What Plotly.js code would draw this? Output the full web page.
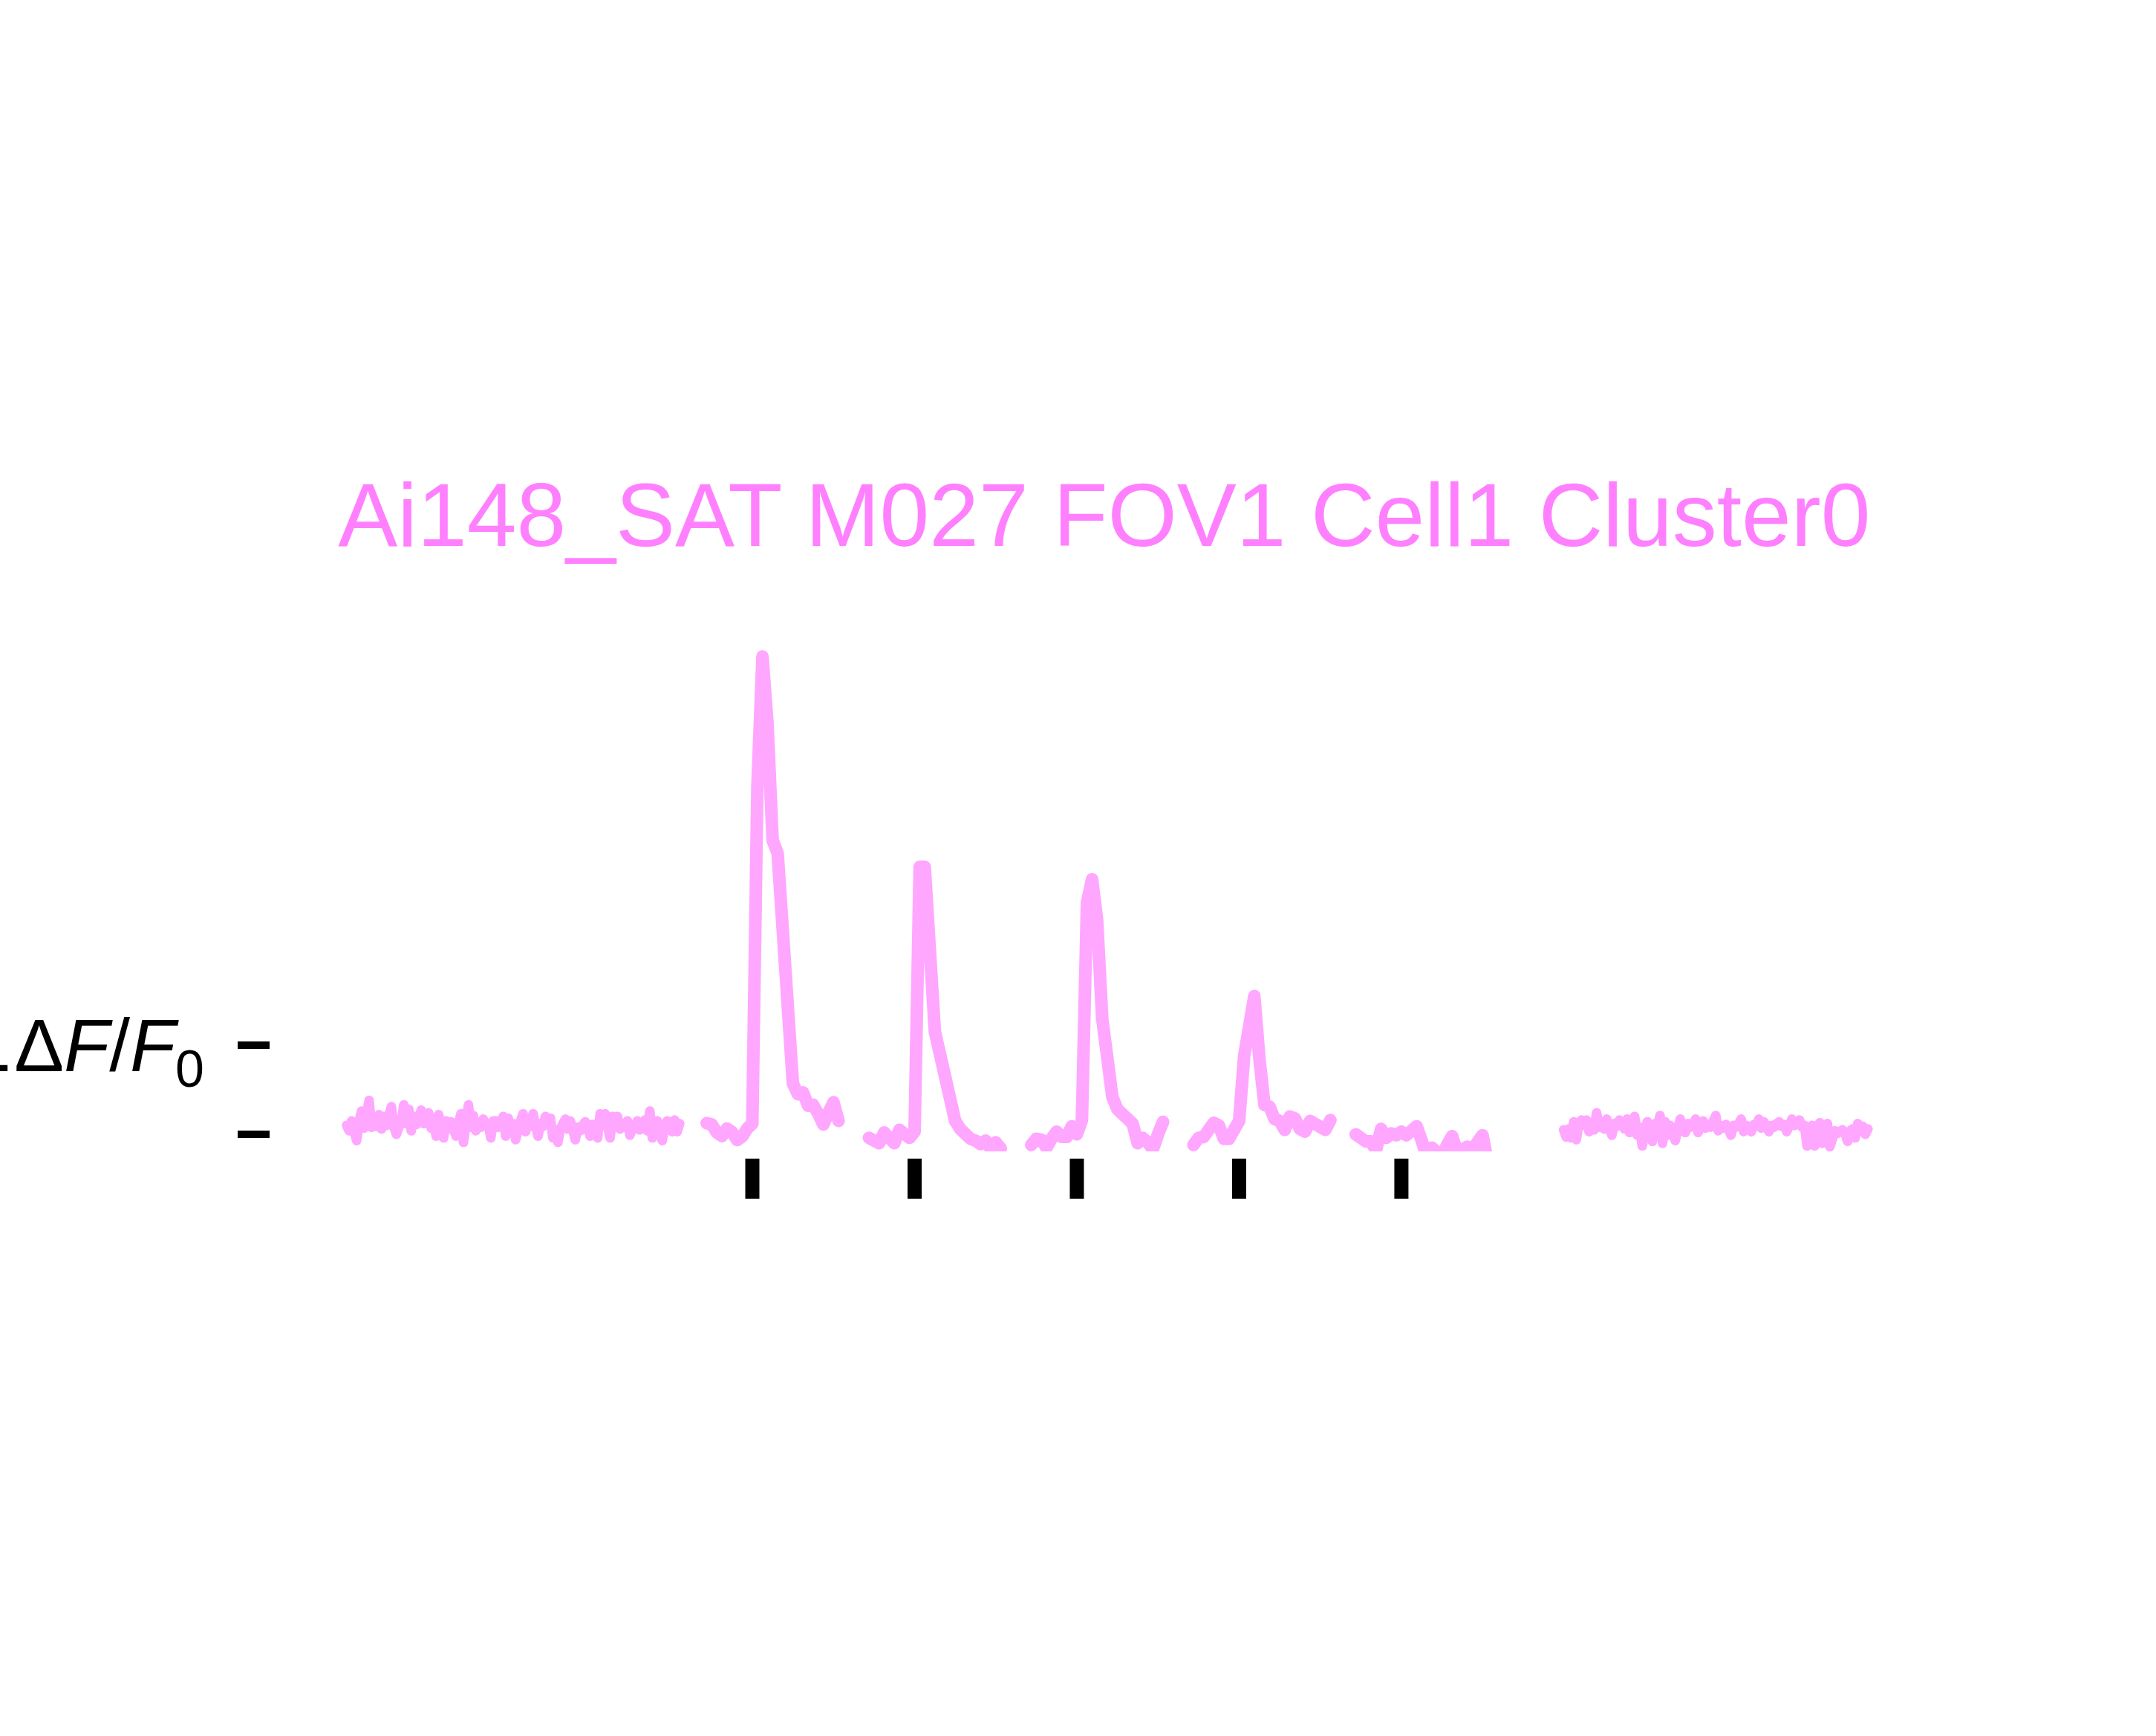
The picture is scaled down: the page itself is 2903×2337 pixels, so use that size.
<!DOCTYPE html>
<html>
<head>
<meta charset="utf-8">
<script src="https://cdn.plot.ly/plotly-3.0.1.min.js"></script>
<style>html,body{margin:0;padding:0;background:#fff;}</style>
</head>
<body>
<div id="chart" style="width:2903px;height:2337px;"></div>
<script>
// ---------------- data ----------------
const titleText = "Ai148_SAT M027 FOV1 Cell1 Cluster0";

// pre-stimulus baseline recording (ΔF/F0), start 0 s
const baselinePre = [
  0.10, 0.04, 0.15, 0.06, -0.07, 0.14, 0.26, 0.07, 0.19, 0.38,
  0.08, 0.16, 0.09, 0.22, 0.06, 0.20, 0.10, 0.17, 0.31, 0.09,
  0.00, 0.08, 0.14, 0.33, 0.12, 0.28, 0.04, 0.20, 0.11, 0.18,
  0.27, 0.12, 0.16, 0.24, 0.07, 0.16, -0.02, 0.22, 0.10, -0.04,
  0.15, 0.06, 0.14, 0.08, -0.02, 0.12, 0.23, -0.09, 0.10, 0.33,
  0.08, 0.21, 0.04, 0.10, 0.08, 0.17, 0.09, 0.12, -0.04, 0.15,
  0.15, 0.08, 0.10, 0.20, -0.02, 0.18, 0.08, 0.12, -0.06, 0.10,
  0.15, 0.23, 0.03, 0.12, 0.09, 0.23, 0.10, -0.02, 0.12, 0.09,
  0.20, 0.11, 0.18, -0.04, 0.05, -0.09, 0.06, 0.10, 0.17, 0.06,
  0.15, 0.05, -0.06, 0.08, 0.04, 0.10, 0.14, 0.08, -0.02, 0.11,
  0.06, -0.04, 0.23, 0.10, 0.23, 0.09, -0.04, 0.20, 0.08, 0.20,
  0.06, 0.12, 0.08, 0.15, -0.01, 0.08, 0.06, 0.15, 0.05, 0.10,
  0.16, 0.04, 0.26, -0.04, 0.10, 0.15, 0.02, -0.07, 0.10, 0.15,
  0.06, 0.03, 0.16, 0.03, 0.12
];
const baselinePreStart = 0;
const baselinePreDt = 0.1225;

// post-stimulus baseline recording (ΔF/F0), start 60 s
const baselinePost = [
  0.05, -0.03, 0.06, -0.04, 0.14, -0.06, 0.12, 0.16, 0.10, 0.16,
  0.03, 0.13, 0.05, 0.24, 0.08, 0.12, 0.06, 0.17, 0.09, -0.01,
  0.12, 0.09, 0.16, 0.10, 0.06, 0.17, 0.02, 0.10, 0.20, -0.01,
  0.08, -0.13, 0.06, 0.14, 0.04, -0.08, 0.12, 0.08, 0.21, -0.10,
  0.14, -0.01, 0.10, 0.06, -0.07, 0.10, 0.17, 0.08, 0.02, 0.12,
  0.08, 0.10, 0.17, 0.02, 0.09, 0.15, 0.07, 0.11, 0.08, 0.13,
  0.21, 0.04, 0.10, 0.07, 0.11, 0.06, -0.01, 0.10, 0.08, 0.12,
  0.17, 0.03, 0.10, 0.08, 0.03, 0.11, 0.09, 0.17, 0.07, 0.14,
  0.09, 0.03, 0.10, 0.08, 0.12, 0.14, 0.09, 0.11, 0.03, 0.10,
  0.17, 0.10, 0.13, 0.16, 0.08, 0.10, -0.13, 0.05, 0.10, -0.13,
  0.04, 0.13, -0.10, 0.06, 0.12, -0.14, 0.02, 0.04, 0.01, 0.03,
  0.05, 0.01, -0.08, 0.04, 0.06, -0.04, 0.12, 0.05, 0.09, 0.00,
  0.06
];
const baselinePostStart = 60;
const baselinePostDt = 0.125;

// stimulus onset times (s)
const stimTimes = [20, 28, 36, 44, 52];

// trial responses (ΔF/F0), each window starts trialPre seconds before its stimulus
const trialPre = 2.25;
const trialDt = 0.25;
const trial1 = [0.125, 0.11, 0.02, -0.02, 0.065, 0.025, -0.065, -0.025, 0.065, 0.12,
  3.9, 5.36, 4.6, 3.3, 3.15, 2.1, 1.4, 0.57, 0.45, 0.47, 0.32, 0.33, 0.23, 0.11, 0.24, 0.36, 0.15];
const trial2 = [-0.04, -0.08, -0.10, 0.02, -0.03, -0.10, 0.05, 0.0, -0.04, 0.03,
  3.0, 3.0, 2.0, 1.15, 0.9, 0.6, 0.3, 0.15, 0.06, -0.01, -0.05, -0.07, -0.11, -0.07, -0.16, -0.09, -0.16];
const trial3 = [-0.12, -0.05, -0.06, -0.15, -0.05, 0.03, -0.03, -0.03, 0.09, 0.0,
  0.16, 2.6, 2.86, 2.4, 1.3, 0.75, 0.42, 0.28, 0.24, 0.2, 0.12, -0.1, -0.04, -0.09, -0.17, 0.0, 0.14];
const trial4 = [-0.12, -0.04, -0.03, 0.07, 0.13, 0.1, -0.05, -0.05, 0.03, 0.15,
  0.88, 1.2, 1.55, 0.85, 0.33, 0.31, 0.17, 0.15, 0.05, 0.2, 0.18, 0.06, 0.03, 0.15, 0.12, 0.05, 0.05, 0.16];
const trial5 = [0.0, -0.06, -0.08, -0.08, -0.18, 0.06, -0.04, 0.01, -0.01, 0.03,
  -0.01, 0.04, 0.09, -0.07, -0.25, -0.15, -0.2, -0.25, -0.12, -0.02, -0.2, -0.16, -0.14, -0.17, -0.1, -0.01, -0.3];
const trials = [trial1, trial2, trial3, trial4, trial5];

// scale bar ticks
const scaleTickVals = [0, 1];
const scaleTickText = [" ", "<span style=\"font-family:DejaVu Sans\">1</span>Δ<i>F</i>/<i>F</i><sub>0</sub>"];

// ---------------- styles ----------------
const traceColor = "rgb(255,166,255)";
const titleColor = "#FF80FF";
const trialLineWidth = 17;
const baselineLineWidth = 13;
const stimBarSpan = [0.09, 0.88];   // in the stimulus strip axis

function segment(values, start, dt, width) {
  return {
    type: "scatter", mode: "lines",
    x: values.map((_, i) => start + i * dt),
    y: values,
    line: {color: traceColor, width: width},
    hoverinfo: "skip", showlegend: false
  };
}

const data = [];
data.push(segment(baselinePre, baselinePreStart, baselinePreDt, baselineLineWidth));
trials.forEach((tr, k) => data.push(segment(tr, stimTimes[k] - trialPre, trialDt, trialLineWidth)));
data.push(segment(baselinePost, baselinePostStart, baselinePostDt, baselineLineWidth));

// stimulus bars: vertical segments on a thin strip axis below the trace
const stimX = [], stimY = [];
stimTimes.forEach(t => { stimX.push(t, t, null); stimY.push(stimBarSpan[0], stimBarSpan[1], null); });
data.push({
  type: "scatter", mode: "lines", xaxis: "x", yaxis: "y2",
  x: stimX, y: stimY,
  line: {color: "#000", width: 19},
  connectgaps: false, hoverinfo: "skip", showlegend: false
});

const layout = {
  width: 2903, height: 2337,
  margin: {l: 363, r: 373, t: 860, b: 717, pad: 0},
  paper_bgcolor: "#fff", plot_bgcolor: "rgba(0,0,0,0)",
  showlegend: false,
  title: {
    text: titleText,
    font: {family: "Liberation Sans, Arial, sans-serif", size: 120, color: titleColor},
    xref: "container", x: 0.5122, xanchor: "center",
    yref: "container", y: 0.7033, yanchor: "middle"
  },
  xaxis: {
    domain: [0.04199, 1], range: [-0.4687, 75.547],
    visible: false, showgrid: false, zeroline: false
  },
  yaxis: {
    domain: [0.0921, 1],
    anchor: "free", position: 0,
    range: [-0.1917, 5.558],
    tickmode: "array", tickvals: scaleTickVals, ticktext: scaleTickText,
    ticks: "outside", ticklen: 43, tickwidth: 10, tickcolor: "#000",
    showline: false, showgrid: false, zeroline: false,
    tickfont: {family: "Liberation Sans, Arial, sans-serif", size: 100, color: "#000"},
    ticklabelstandoff: 25,
    automargin: false
  },
  yaxis2: {
    domain: [0, 0.09], range: [0, 1],
    anchor: "x", visible: false, showgrid: false, zeroline: false
  }
};

Plotly.newPlot("chart", data, layout, {displayModeBar: false, staticPlot: true}).then(gd => {
  // round joins like the original trace rendering (stimulus bars keep butt ends)
  const traces = gd.querySelectorAll(".scatterlayer .trace");
  traces.forEach((tr, i) => {
    if (i === traces.length - 1) return;
    tr.querySelectorAll("path.js-line").forEach(p => {
      p.style.strokeLinejoin = "round";
      p.style.strokeLinecap = "round";
    });
  });
});
</script>
</body>
</html>
